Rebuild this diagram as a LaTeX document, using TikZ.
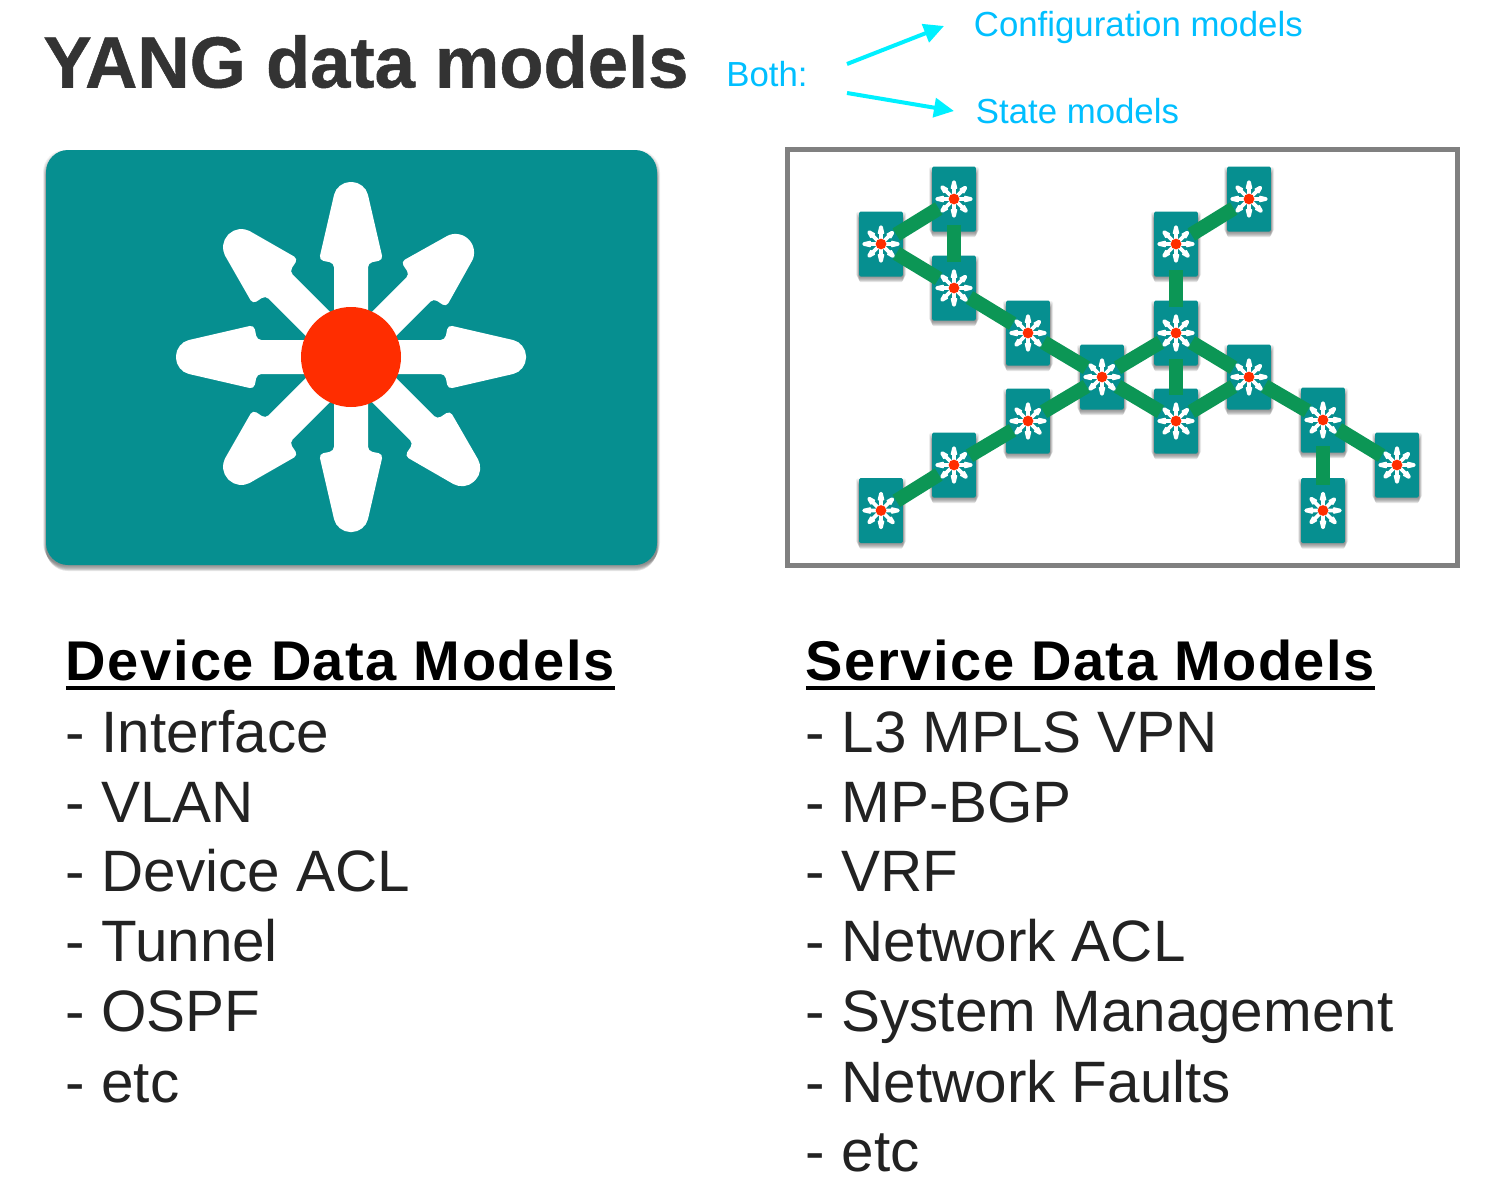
\documentclass[tikz,border=0pt]{standalone}
\usepackage{fontspec}
\usetikzlibrary{arrows.meta}
\setmainfont{Liberation Sans}
\definecolor{teal0}{HTML}{068F90}
\definecolor{green0}{HTML}{0C9655}
\definecolor{red0}{HTML}{FF2D00}
\definecolor{sky0}{HTML}{00BFFF}
\definecolor{cyan0}{HTML}{00F0FF}
\definecolor{ink0}{HTML}{222222}
\definecolor{title0}{HTML}{333333}
\newsavebox{\ulbox}
\newcommand{\ulhead}[1]{\sbox{\ulbox}{#1}\rlap{\rule[-5pt]{\wd\ulbox}{2pt}}\usebox{\ulbox}}
\newcommand{\starmark}[4]{% node, scale, tip radius, shoulder radius
  \begin{scope}[shift={(#1)},scale=#2]
    \foreach \a/\l/\b in {0/1/97,45/0.95/108,90/1/97,135/0.99/108,180/1/97,225/0.99/108,270/1/97,315/1/108}{
      \fill[white,rotate=\a,xscale=\l,rounded corners=#4]
        (0,-17) -- (\b-3,-17) -- (\b,-32)
        [rounded corners=#3] -- (175,-14) -- (175,14)
        [rounded corners=#4] -- (\b,32) -- (\b-3,17) -- (0,17) -- cycle;
    }
    \fill[red0] (0,0) circle[radius=50];
  \end{scope}}
\tikzset{
  x=0.5pt,y=-0.5pt,
  txt/.style={anchor=base west,inner sep=0pt,text=ink0,font=\fontsize{29.2pt}{32pt}\selectfont},
  head/.style={anchor=base west,inner sep=0pt,text=black,font=\fontsize{28pt}{30pt}\selectfont\bfseries\addfontfeature{LetterSpace=2.7}},
  note/.style={anchor=base west,inner sep=0pt,text=sky0,font=\fontsize{17.4pt}{20pt}\selectfont},
  swbox/.style={fill=teal0,minimum width=21.8pt,minimum height=32.5pt,inner sep=0pt,rounded corners=0.7pt},
  link/.style={draw=green0,line width=7.2pt},
  diag/.style={link,shorten >=9pt,shorten <=9pt},
  vert/.style={link,shorten >=13pt,shorten <=13pt},
  pointer/.style={draw=cyan0,line width=2pt,-{Triangle[length=10pt,width=9.5pt]}},
}
\newcommand{\softshadow}[5]{% x1 y1 x2 y2 radius
  \foreach \o/\op in {0/0.05,1/0.06,2/0.07,3/0.08,4/0.09,5/0.1,6/0.1}{
    \fill[black,opacity=\op,rounded corners=#5]
      (#1-3+\o*0.5,#2+\o) rectangle (#3+3-\o*0.5,#4+\o);
  }}
\begin{document}
\begin{tikzpicture}
\useasboundingbox (0,0) rectangle (1506,1194);
\fill[white] (0,0) rectangle (1506,1194);

% title
\node[anchor=base west,inner sep=0pt,text=title0,font=\fontsize{36.2pt}{40pt}\selectfont\bfseries\addfontfeature{FakeBold=0.7}] (title) at (43,87.5) {YANG data models};

% both
\node[note] (both) at (726,86) {Both:};
\node[note] (cfg) at (973.5,36) {Configuration models};
\node[note] (state) at (975.5,123) {State models};
\coordinate (c1) at (847,64);
\coordinate (c2) at (944,26);
\coordinate (s1) at (847,93);
\coordinate (s2) at (954,111);
\draw[pointer] (c1) -- (c2);
\draw[pointer] (s1) -- (s2);

% device
\softshadow{46}{150}{657}{565}{11pt}
\node[fill=teal0,minimum width=305.5pt,minimum height=207.5pt,inner sep=0pt,rounded corners=11pt] (device) at (351.5,357.5) {};
\starmark{351,357}{1}{6.5pt}{2.2pt}

% service frame
\node[draw=black!50,line width=2.2pt,minimum width=335pt,minimum height=208pt,inner sep=0pt] (frame) at (1122.5,357.5) {};

\foreach \n/\x/\y in {a/881/244,b/954/199,c/954/288,d/1028/333,e/1102/377,f/1176/333,g/1176/244,h/1249/199,i/1176/421,j/1249/377,k/1323/420,l/1397/465,m/1323/510.5,n/1028/421,o/954/465,p/881/510.5}{
  \softshadow{\x-22}{\y-32}{\x+22}{\y+32}{0.7pt}
  \node[swbox] (\n) at (\x,\y) {};
}
\foreach \u/\v in {a/b,a/c,c/d,d/e,e/f,e/i,f/j,i/j,g/h,j/k,k/l,e/n,n/o,o/p}{
  \draw[diag] (\u.center) -- (\v.center);
}
\foreach \u/\v in {b/c,f/g,f/i,k/m}{
  \draw[vert] (\u.center) -- (\v.center);
}
\foreach \n in {a,b,c,d,e,f,g,h,i,j,k,l,m,n,o,p}{
  \starmark{\n}{0.107}{0.7pt}{0.25pt}
}

% lists
\node[head] (h1) at (65.5,680) {\ulhead{Device Data Models}};
\node[head] (h2) at (805.5,680) {\ulhead{Service Data Models}};
\node[txt] (l1) at (65.5,752) {- Interface};
\node[txt] (l2) at (65.5,822) {- VLAN};
\node[txt] (l3) at (65.5,891) {- Device ACL};
\node[txt] (l4) at (65.5,961) {- Tunnel};
\node[txt] (l5) at (65.5,1031) {- OSPF};
\node[txt] (l6) at (65.5,1102) {- etc};
\node[txt] (r1) at (805.5,752) {- L3 MPLS VPN};
\node[txt] (r2) at (805.5,822) {- MP-BGP};
\node[txt] (r3) at (805.5,891) {- VRF};
\node[txt] (r4) at (805.5,961) {- Network ACL};
\node[txt] (r5) at (805.5,1031) {- System Management};
\node[txt] (r6) at (805.5,1102) {- Network Faults};
\node[txt] (r7) at (805.5,1171) {- etc};
\end{tikzpicture}
\end{document}
